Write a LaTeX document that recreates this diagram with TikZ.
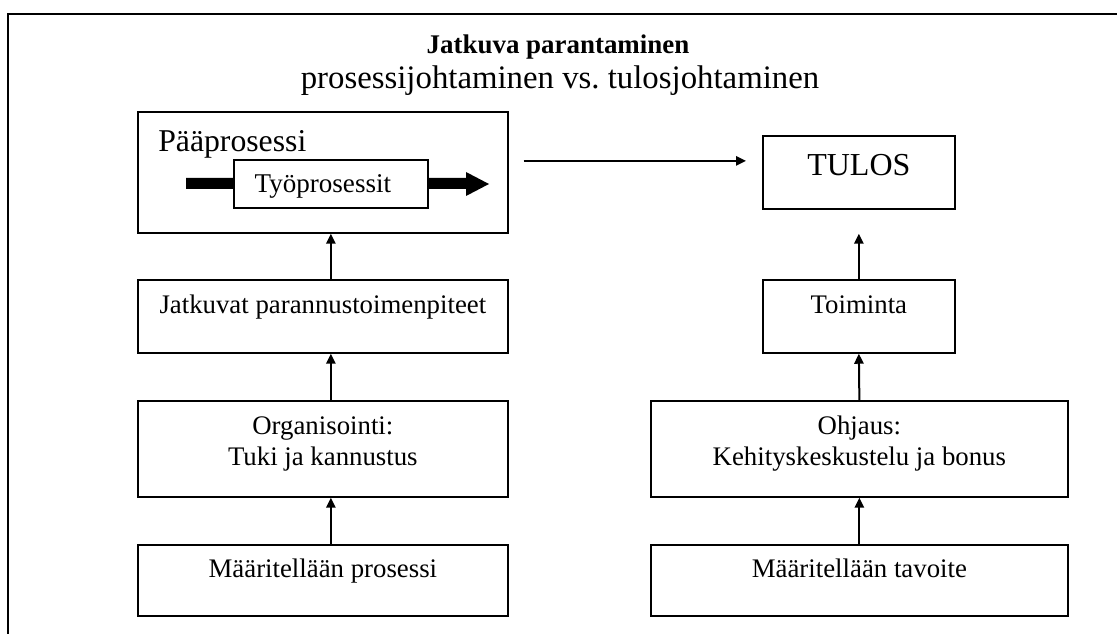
\documentclass[tikz,border=0pt]{standalone}
\usepackage{fontspec}
\setmainfont{Liberation Serif}
\usetikzlibrary{arrows.meta,calc}
\frenchspacing
\begin{document}
\begin{tikzpicture}[x=0.75pt,y=-0.75pt,
  box/.style={draw,line width=1.3pt,fill=white,inner sep=0pt,anchor=north west},
  conn/.style={line width=1.5pt,-{Triangle[length=7.5pt,width=7pt]}},
  lbl/.style={anchor=base,inner sep=0pt,font=\fontsize{20.1}{24}\selectfont}]
\useasboundingbox (0,0) rectangle (1117,634);
% open frame: top and left edges
\draw[line width=1.5pt] (8,634) -- (8,14) -- (1117,14);

% headings
\node[anchor=base,inner sep=0pt,font=\fontsize{20.2}{24}\selectfont\bfseries] (title) at (558,54) {Jatkuva parantaminen};
\node[anchor=base,inner sep=0pt,font=\fontsize{24.6}{28}\selectfont] (subtitle) at (560,89) {prosessijohtaminen vs. tulosjohtaminen};

% main process box with the work-process band
\node[box,minimum width=370*0.75pt,minimum height=121*0.75pt] (pp) at (137,111) {};
\node[anchor=base west,inner sep=0pt,font=\fontsize{23.8}{28}\selectfont] (pplbl) at (158,152) {Pääprosessi};
\fill (186,178) -- (466,178) -- (466,172) -- (489,184) -- (466,196) -- (466,189) -- (186,189) -- cycle;
\node[box,minimum width=194*0.75pt,minimum height=48*0.75pt] (typ) at (233,159) {};
\node[anchor=base,inner sep=0pt,font=\fontsize{20.3}{24}\selectfont] at ($(typ.north)+(-8,34)$) {Työprosessit};

% result
\node[box,minimum width=192*0.75pt,minimum height=73*0.75pt] (tulos) at (762,135) {};
\node[anchor=base,inner sep=0pt,font=\fontsize{24}{28}\selectfont] at ($(tulos.north)+(0,41)$) {TULOS};

% left column
\node[box,minimum width=370*0.75pt,minimum height=73*0.75pt] (jat) at (137,279) {};
\node[lbl] at ($(jat.north)+(0,35)$) {Jatkuvat parannustoimenpiteet};
\node[box,minimum width=370*0.75pt,minimum height=96*0.75pt] (org) at (137,400) {};
\node[lbl] at ($(org.north)+(0,35)$) {Organisointi:};
\node[lbl] at ($(org.north)+(0,65)$) {Tuki ja kannustus};
\node[box,minimum width=370*0.75pt,minimum height=71*0.75pt] (mp) at (137,544) {};
\node[lbl] at ($(mp.north)+(0,33)$) {Määritellään prosessi};

% right column
\node[box,minimum width=192*0.75pt,minimum height=73*0.75pt] (toim) at (762,279) {};
\node[lbl] at ($(toim.north)+(0,35)$) {Toiminta};
\node[box,minimum width=417*0.75pt,minimum height=96*0.75pt] (ohj) at (650,400) {};
\node[lbl] at ($(ohj.north)+(0,35)$) {Ohjaus:};
\node[lbl] at ($(ohj.north)+(0,65)$) {Kehityskeskustelu ja bonus};
\node[box,minimum width=417*0.75pt,minimum height=71*0.75pt] (mt) at (650,544) {};
\node[lbl] at ($(mt.north)+(0,33)$) {Määritellään tavoite};

% connectors
\draw[conn] ($(pp.east)+(15,-11.5)$) -- ($(tulos.west)+(-16,-11.5)$);
\draw[conn] ($(jat.north)+(8,0)$) -- ($(pp.south)+(8,0)$);
\draw[conn] ($(org.north)+(8,0)$) -- ($(jat.south)+(8,0)$);
\draw[conn] ($(mp.north)+(8,0)$) -- ($(org.south)+(8,0)$);
\draw[conn] (toim.north) -- ($(tulos.south)+(0,24)$);
\draw[conn] (ohj.north) -- (toim.south);
\draw[conn] (mt.north) -- (ohj.south);
\end{tikzpicture}
\end{document}
